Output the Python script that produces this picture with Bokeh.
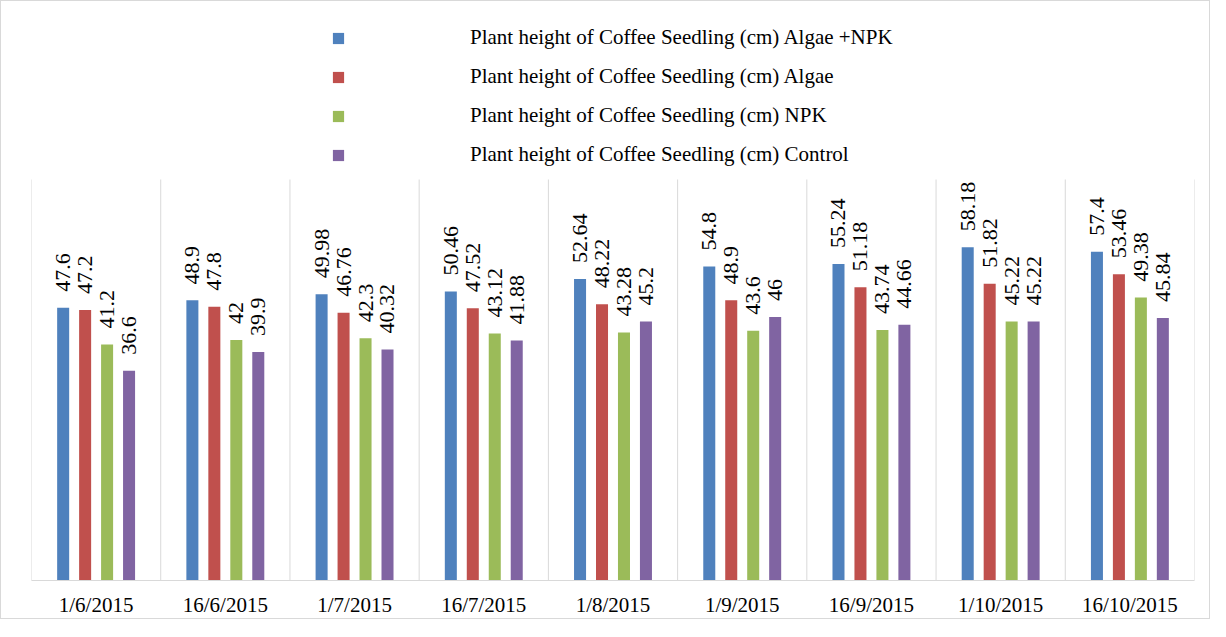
from bokeh.plotting import figure
from bokeh.models import ColumnDataSource, Range1d, FactorRange, LabelSet, Legend, LegendItem
from bokeh.transform import dodge
from bokeh.embed import file_html
from bokeh.resources import INLINE

dates = ["1/6/2015", "16/6/2015", "1/7/2015", "16/7/2015", "1/8/2015",
         "1/9/2015", "16/9/2015", "1/10/2015", "16/10/2015"]
algae_npk = [47.6, 48.9, 49.98, 50.46, 52.64, 54.8, 55.24, 58.18, 57.4]
algae = [47.2, 47.8, 46.76, 47.52, 48.22, 48.9, 51.18, 51.82, 53.46]
npk = [41.2, 42, 42.3, 43.12, 43.28, 43.6, 43.74, 45.22, 49.38]
control = [36.6, 39.9, 40.32, 41.88, 45.2, 46, 44.66, 45.22, 45.84]

series_names = [
    "Plant height of Coffee Seedling (cm) Algae +NPK",
    "Plant height of Coffee Seedling (cm) Algae",
    "Plant height of Coffee Seedling (cm) NPK",
    "Plant height of Coffee Seedling (cm) Control",
]
series_values = [algae_npk, algae, npk, control]
colors = ["#4F81BD", "#C0504D", "#9BBB59", "#8064A2"]
offsets = [-0.255, -0.085, 0.085, 0.255]

Y_TOP = 70  # top of the bar area (value axis maximum)
# the frame extends above the bar area to host the legend
p = figure(x_range=FactorRange(*dates, range_padding=0), y_range=Range1d(0, Y_TOP * 579 / 401),
           width=1210, height=619, output_backend="svg", toolbar_location=None,
           min_border_left=30, min_border_right=17, min_border_top=0, min_border_bottom=40)
p.styles = {"border": "1px solid #d9d9d9"}
p.outline_line_color = None
p.xgrid.grid_line_color = None
p.ygrid.grid_line_color = None
p.yaxis.visible = False

# category boundary lines
bsrc = ColumnDataSource(dict(d=dates))
p.segment(x0=dodge("d", -0.5, range=p.x_range), x1=dodge("d", -0.5, range=p.x_range),
          y0=0, y1=Y_TOP, source=bsrc, line_color="#d9d9d9", line_width=1)
p.segment(x0=dodge("d", 0.5, range=p.x_range), x1=dodge("d", 0.5, range=p.x_range),
          y0=0, y1=Y_TOP, source=ColumnDataSource(dict(d=dates[-1:])), line_color="#d9d9d9", line_width=1)

items = []
for name, vals, col, off in zip(series_names, series_values, colors, offsets):
    src = ColumnDataSource(dict(d=dates, v=vals, t=[f"{v:g}" for v in vals]))
    r = p.vbar(x=dodge("d", off, range=p.x_range), top="v", width=0.093, source=src,
               fill_color=col, line_color=None)
    items.append(LegendItem(label=name, renderers=[r]))
    lab = LabelSet(x=dodge("d", off, range=p.x_range), y="v", text="t", source=src,
                   angle=90, angle_units="deg", text_align="left", text_baseline="middle",
                   y_offset=16, text_font="Lato", text_font_size="22px", text_color="#000000")
    p.add_layout(lab)

legend = Legend(items=items, location=(300, 413), orientation="vertical",
                glyph_width=14, glyph_height=14, label_standoff=125, spacing=14,
                padding=0, margin=0, border_line_color=None, background_fill_alpha=0,
                label_text_font="Liberation Serif", label_text_font_size="21px",
                label_text_color="#000000")
p.add_layout(legend, "center")

ax = p.xaxis[0]
ax.axis_line_color = "#d9d9d9"
ax.major_tick_line_color = None
ax.minor_tick_line_color = None
ax.major_label_text_font = "Liberation Serif"
ax.major_label_text_font_size = "21px"
ax.major_label_text_color = "#000000"
ax.major_label_standoff = 6

open("out.html", "w").write(file_html(p, INLINE))
